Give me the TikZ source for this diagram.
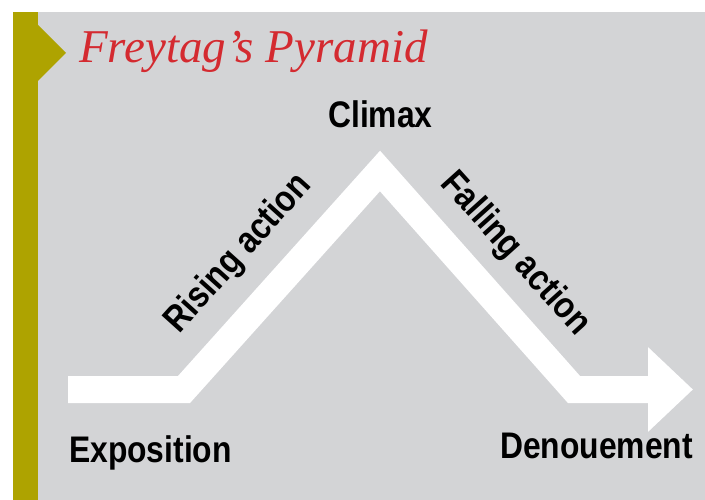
\documentclass[tikz,border=0pt]{standalone}
\usepackage{fontspec}
\usetikzlibrary{arrows.meta}
\newfontfamily\stagefont[FakeStretch=0.86]{Liberation Sans}
\newfontfamily\titlefont{Liberation Serif}
\definecolor{panelgray}{HTML}{D3D4D6}
\definecolor{olivebar}{HTML}{AEA300}
\definecolor{titlered}{HTML}{D42A30}
\tikzset{
  stage/.style={font=\stagefont\bfseries\fontsize{37}{37}\selectfont, inner sep=0pt},
  plotline/.style={line width=27, white, line join=miter,
    -{Triangle[length=45pt,width=82pt]}}
}

\begin{document}
\begin{tikzpicture}[x=1pt,y=-1pt]
\useasboundingbox (0,0) rectangle (705,500);
\fill[white] (0,0) rectangle (705,500);
\fill[panelgray] (13,12) rectangle (705,500);
% side bar with its marker
\fill[olivebar] (13,12) rectangle (38,500);
\fill[olivebar] (38,25)--(66,53)--(38,81)--cycle;
\node[anchor=base west, inner sep=0pt, text=titlered,
  font=\titlefont\itshape\fontsize{47}{47}\selectfont] (title) at (79,63) {Freytag’s Pyramid};
% the plot line
\coordinate (start) at (68,389.5);
\coordinate (rise) at (184,389.5);
\coordinate (peak) at (380,171);
\coordinate (fall) at (574,389.5);
\coordinate (tip) at (693,389.5);
\draw[plotline] (start)--(rise)--(peak)--(fall)--(tip);
% labels
\node[stage, anchor=base] (climax) at (380.5,128) {Climax};
\node[stage, anchor=base west] (expo) at (69,462) {Exposition};
\node[stage, anchor=base east] (denou) at (693,458) {Denouement};
\node[stage, rotate=48] (rising) at (239,254) {Rising action};
\node[stage, rotate=-48] (falling) at (515,254) {Falling action};
\end{tikzpicture}
\end{document}
